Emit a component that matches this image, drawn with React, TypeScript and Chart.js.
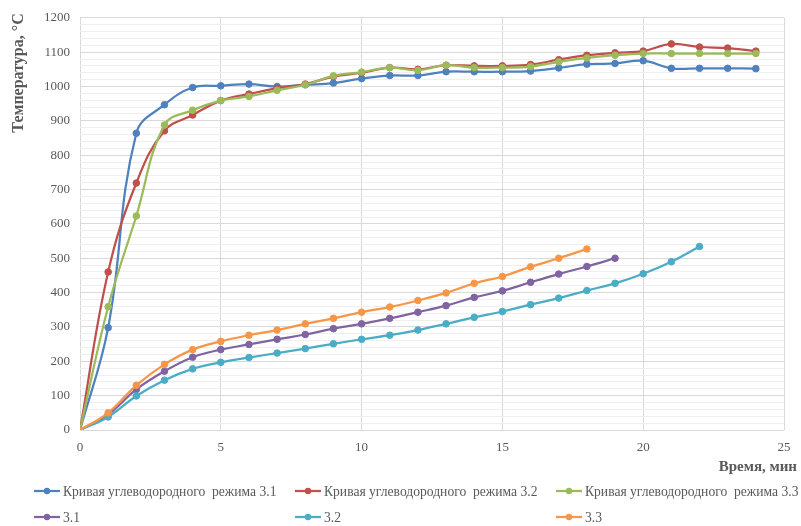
import React, { useEffect, useRef } from 'react';
import { Chart, registerables } from 'chart.js';
Chart.register(...registerables);

const timeMin = [0, 1, 2, 3, 4, 5, 6, 7, 8, 9, 10, 11, 12, 13, 14, 15, 16, 17, 18, 19, 20, 21, 22, 23, 24];
const hc31 = [0, 298, 864, 947, 997, 1002, 1007, 1000, 1005, 1010, 1023, 1032, 1032, 1043, 1043, 1043, 1045, 1054, 1065, 1067, 1075, 1053, 1053, 1053, 1052];
const hc32 = [0, 460, 719, 871, 917, 959, 978, 995, 1007, 1029, 1040, 1055, 1050, 1062, 1060, 1060, 1064, 1078, 1091, 1098, 1103, 1124, 1115, 1112, 1103];
const hc33 = [0, 359, 623, 888, 931, 959, 971, 989, 1005, 1031, 1042, 1055, 1047, 1062, 1055, 1055, 1058, 1072, 1083, 1091, 1096, 1096, 1096, 1096, 1096];
const s31 = [0, 45, 118, 171, 212, 234, 249, 264, 278, 295, 309, 325, 343, 362, 386, 405, 430, 454, 476, 500];
const s32 = [0, 38, 99, 145, 178, 197, 211, 224, 237, 251, 264, 276, 291, 309, 328, 345, 365, 384, 406, 427, 455, 490, 534];
const s33 = [0, 50, 130, 191, 234, 258, 276, 291, 309, 325, 343, 358, 377, 399, 427, 447, 475, 500, 527];

const seriesNames = [
  'Кривая углеводородного  режима 3.1',
  'Кривая углеводородного  режима 3.2',
  'Кривая углеводородного  режима 3.3',
  '3.1',
  '3.2',
  '3.3',
];
const seriesValues = [hc31, hc32, hc33, s31, s32, s33];
const seriesColors = ['#4F81BD', '#C0504D', '#9BBB59', '#8064A2', '#4BACC6', '#F79646'];

const xTitle = 'Время, мин';
const yTitle = 'Температура, °С';

const SERIF = '"Liberation Serif", "Times New Roman", serif';
const TEXT = '#595959';

const overlayPlugin = {
  id: 'overlay',
  afterDraw(chart: any) {
    const ctx = chart.ctx as CanvasRenderingContext2D;
    ctx.save();
    ctx.fillStyle = TEXT;
    ctx.font = `bold 16px ${SERIF}`;
    ctx.textAlign = 'center';
    ctx.textBaseline = 'middle';
    ctx.translate(19, 73);
    ctx.rotate(-Math.PI / 2);
    ctx.fillText(yTitle, 0, 0);
    ctx.restore();

    ctx.save();
    ctx.fillStyle = TEXT;
    ctx.font = `bold 15px ${SERIF}`;
    ctx.textAlign = 'right';
    ctx.textBaseline = 'middle';
    ctx.fillText(xTitle, 797, 467);

    const colX = [34, 295, 556];
    const rowY = [491, 517];
    ctx.font = `13.6px ${SERIF}`;
    ctx.textAlign = 'left';
    chart.data.datasets.forEach((ds: any, i: number) => {
      const x = colX[i % 3];
      const y = rowY[Math.floor(i / 3)];
      ctx.strokeStyle = ds.borderColor;
      ctx.lineWidth = 2.25;
      ctx.beginPath();
      ctx.moveTo(x, y);
      ctx.lineTo(x + 26, y);
      ctx.stroke();
      ctx.fillStyle = ds.borderColor;
      ctx.beginPath();
      ctx.arc(x + 13, y, 3.2, 0, Math.PI * 2);
      ctx.fill();
      ctx.fillStyle = TEXT;
      ctx.fillText(ds.label, x + 29, y + 1);
    });
    ctx.restore();
  },
};

export default function App() {
  const ref = useRef<HTMLCanvasElement>(null);
  useEffect(() => {
    document.body.style.margin = '0';
    const datasets = seriesValues.map((vals, i) => ({
      label: seriesNames[i],
      data: vals.map((v, j) => ({ x: timeMin[j], y: v })),
      borderColor: seriesColors[i],
      backgroundColor: seriesColors[i],
      pointBackgroundColor: seriesColors[i],
      pointBorderColor: seriesColors[i],
      pointRadius: 3.3,
      pointBorderWidth: 1,
      borderWidth: 2.25,
      tension: 0.4,
      fill: false,
      order: 10 - i,
    }));
    const chart = new Chart(ref.current!, {
      type: 'line',
      data: { datasets },
      options: {
        responsive: false,
        animation: false,
        layout: { padding: { left: 0, right: 17, top: 15, bottom: 0 } },
        plugins: { legend: { display: false }, tooltip: { enabled: false } },
        scales: {
          x: {
            type: 'linear',
            min: 0,
            max: 25,
            ticks: { stepSize: 5, padding: 10, color: TEXT, font: { family: SERIF, size: 13 } },
            grid: { color: '#d9d9d9', drawTicks: false, lineWidth: 1 },
            border: { display: false },
            afterFit: (s: any) => { s.height = 96; },
          },
          y: {
            min: 0,
            max: 1200,
            ticks: {
              stepSize: 20,
              autoSkip: false,
              padding: 10,
              color: TEXT,
              font: { family: SERIF, size: 13 },
              callback: (v: any) => (Number(v) % 100 === 0 ? String(v) : ''),
            },
            grid: {
              drawTicks: false,
              color: (c: any) => (c.tick && c.tick.value % 100 === 0 ? '#d9d9d9' : '#efefef'),
            },
            border: { display: false },
            afterFit: (s: any) => { s.width = 80; },
          },
        },
      },
      plugins: [overlayPlugin],
    } as any);
    return () => chart.destroy();
  }, []);
  return (
    <div style={{ position: 'absolute', left: 0, top: 0, width: 801, height: 526, background: '#fff' }}>
      <canvas ref={ref} width={801} height={526} style={{ display: 'block' }} />
    </div>
  );
}
